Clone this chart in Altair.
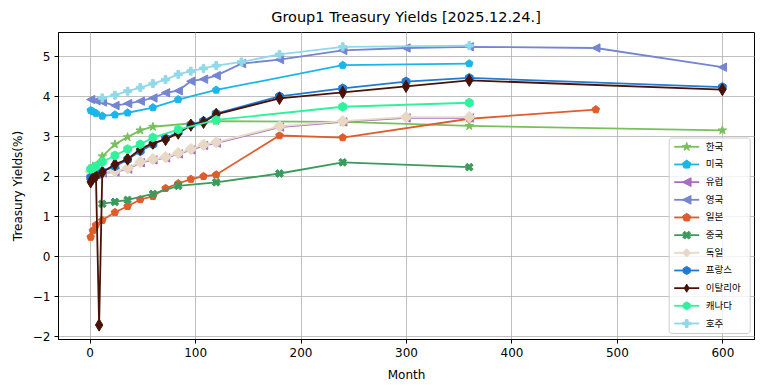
import math
import altair as alt
import pandas as pd

# ---------------- data (months, yields %) ----------------
names = ["한국", "미국", "유럽", "영국", "일본", "중국", "독일", "프랑스", "이탈리아", "캐나다", "호주"]

korea_m = [3, 12, 24, 36, 48, 60, 120, 240, 360, 600]
korea_y = [2.25, 2.5, 2.8, 2.98, 3.15, 3.24, 3.38, 3.36, 3.26, 3.15]

us_m = [1, 3, 6, 12, 24, 36, 60, 84, 120, 240, 360]
us_y = [3.65, 3.62, 3.58, 3.51, 3.54, 3.59, 3.72, 3.92, 4.16, 4.78, 4.82]

eu_m = [1, 3, 6, 12, 24, 36, 48, 60, 72, 84, 96, 108, 120, 180, 240, 300, 360]
eu_y = [2.1, 2.03, 2.04, 2.08, 2.11, 2.18, 2.34, 2.41, 2.46, 2.56, 2.66, 2.77, 2.83, 3.23, 3.36, 3.46, 3.46]

uk_m = [1, 6, 12, 24, 36, 48, 60, 72, 84, 96, 108, 120, 144, 180, 240, 300, 360, 480, 600]
uk_y = [3.92, 3.89, 3.86, 3.77, 3.82, 3.88, 3.96, 4.09, 4.14, 4.38, 4.43, 4.52, 4.82, 4.92, 5.15, 5.21, 5.24, 5.21, 4.73]

jp_m = [1, 3, 6, 12, 24, 36, 48, 60, 72, 84, 96, 108, 120, 180, 240, 360, 480]
jp_y = [0.48, 0.64, 0.78, 0.9, 1.1, 1.25, 1.42, 1.5, 1.7, 1.82, 1.93, 2.0, 2.04, 3.02, 2.97, 3.44, 3.67]

cn_m = [12, 24, 36, 60, 84, 120, 180, 240, 360]
cn_y = [1.31, 1.36, 1.41, 1.56, 1.76, 1.85, 2.07, 2.35, 2.23]

de_m = [1, 3, 6, 12, 24, 36, 48, 60, 72, 84, 96, 108, 120, 180, 240, 300, 360]
de_y = [2.12, 2.05, 2.06, 2.1, 2.13, 2.2, 2.36, 2.43, 2.48, 2.58, 2.68, 2.79, 2.85, 3.25, 3.38, 3.48, 3.48]

fr_m = [1, 3, 6, 9, 12, 24, 36, 48, 60, 72, 84, 96, 108, 120, 180, 240, 300, 360, 600]
fr_y = [1.97, 2.0, 2.04, 2.07, 2.12, 2.25, 2.42, 2.63, 2.8, 2.95, 3.1, 3.29, 3.38, 3.57, 4.0, 4.2, 4.37, 4.46, 4.23]

it_m = [1, 3, 6, 9, 12, 24, 36, 48, 60, 72, 84, 96, 108, 120, 180, 240, 300, 360, 600]
it_y = [1.86, 1.95, 2.0, -1.72, 2.1, 2.3, 2.43, 2.68, 2.83, 2.92, 3.08, 3.28, 3.35, 3.55, 3.95, 4.1, 4.25, 4.4, 4.17]

ca_m = [1, 3, 6, 12, 24, 36, 48, 60, 84, 120, 240, 360]
ca_y = [2.18, 2.2, 2.25, 2.36, 2.52, 2.68, 2.8, 2.97, 3.17, 3.41, 3.74, 3.84]

au_m = [12, 24, 36, 48, 60, 72, 84, 96, 108, 120, 144, 180, 240, 360]
au_y = [3.96, 4.03, 4.13, 4.22, 4.32, 4.42, 4.55, 4.63, 4.7, 4.77, 4.86, 5.05, 5.24, 5.27]

series_m = [korea_m, us_m, eu_m, uk_m, jp_m, cn_m, de_m, fr_m, it_m, ca_m, au_m]
series_y = [korea_y, us_y, eu_y, uk_y, jp_y, cn_y, de_y, fr_y, it_y, ca_y, au_y]

x_ticks = [0, 100, 200, 300, 400, 500, 600]
y_ticks = [-2, -1, 0, 1, 2, 3, 4, 5]

title_text = "Group1 Treasury Yields [2025.12.24.]"
x_title = "Month"
y_title = "Treasury Yields(%)"

# ---------------- styles ----------------
colors = ["#78c05a", "#19b6ea", "#a86cc1", "#7585d1", "#e05c2a", "#3a9b5c",
          "#e8d9c6", "#2079d2", "#4a1206", "#2ff39c", "#90d8ea"]


def poly(pts):
    return "M" + "L".join(f"{x:.3f},{y:.3f}" for x, y in pts) + "Z"


def regular(n, r=1.0, start=-90.0):
    return [(r * math.cos(math.radians(start + k * 360 / n)),
             r * math.sin(math.radians(start + k * 360 / n))) for k in range(n)]


def star():
    pts = []
    for k in range(10):
        r = 1.0 if k % 2 == 0 else 0.382
        a = math.radians(-90 + k * 36)
        pts.append((r * math.cos(a), r * math.sin(a)))
    return pts


def plus(rot=0.0):
    w = 1 / 3
    base = [(-w, -1), (w, -1), (w, -w), (1, -w), (1, w), (w, w), (w, 1), (-w, 1),
            (-w, w), (-1, w), (-1, -w), (-w, -w)]
    c, s = math.cos(math.radians(rot)), math.sin(math.radians(rot))
    return [(x * c - y * s, x * s + y * c) for x, y in base]


shp_star = poly(star())
shp_pent = poly(regular(5))
shp_hex = poly(regular(6))
shp_left = poly([(-1, 0), (1, -1), (1, 1)])
shp_x = poly(plus(45))
shp_p = poly(plus(0))
shp_D = poly([(0, -1), (1, 0), (0, 1), (-1, 0)])
shp_d = poly([(0, -1), (0.6, 0), (0, 1), (-0.6, 0)])

shapes = [shp_star, shp_pent, shp_left, shp_left, shp_pent, shp_x,
          shp_D, shp_hex, shp_d, shp_hex, shp_p]
sizes = [80, 62, 70, 70, 62, 68, 130, 80, 150, 80, 64]

rows = []
for n, ms, ys in zip(names, series_m, series_y):
    for m, v in zip(ms, ys):
        rows.append({"name": n, "month": m, "yield": v})
df = pd.DataFrame(rows)

xscale = alt.Scale(domain=[-30, 630], nice=False, zero=False)
yscale = alt.Scale(domain=[-2.07, 5.61], nice=False, zero=False)
xaxis = alt.Axis(values=x_ticks, title=x_title, grid=True, titlePadding=11)
yaxis = alt.Axis(values=y_ticks, title=y_title, grid=True, titlePadding=8)

layers = []
for i, n in enumerate(names):
    base = alt.Chart(df).transform_filter(alt.datum.name == n)
    xenc = alt.X("month:Q", scale=xscale, axis=xaxis)
    yenc = alt.Y("yield:Q", scale=yscale, axis=yaxis)
    line = base.mark_line(color=colors[i], strokeWidth=1.8).encode(x=xenc, y=yenc)
    pts = base.mark_point(filled=True, fill=colors[i], stroke=colors[i], strokeWidth=1,
                          opacity=1, shape=shapes[i], size=sizes[i]).encode(x=xenc, y=yenc)
    layers += [line, pts]

main = alt.layer(*layers)

# ---------------- legend (manual, matplotlib-like) ----------------
leg_df = pd.DataFrame({"name": names, "idx": list(range(len(names)))})
lbase = alt.Chart(leg_df)
ly = alt.Y("idx:Q", scale=alt.Scale(domain=[0, 10], range=[114.8, 291.5], nice=False, zero=False),
           axis=None)
col = alt.Color("name:N", scale=alt.Scale(domain=names, range=colors), legend=None)
strk = alt.Stroke("name:N", scale=alt.Scale(domain=names, range=colors), legend=None)
shp = alt.Shape("name:N", scale=alt.Scale(domain=names, range=shapes), legend=None)
siz = alt.Size("name:N", scale=alt.Scale(domain=names, range=sizes), legend=None)

frame = alt.Chart(pd.DataFrame({"a": [0]})).mark_rect(
    fill="white", fillOpacity=0.8, stroke="#cccccc", strokeWidth=1, cornerRadius=3
).encode(x=alt.value(611.2), x2=alt.value(692.2), y=alt.value(106), y2=alt.value(301.5))
handles = lbase.mark_rule(strokeWidth=1.8).encode(
    x=alt.value(616.2), x2=alt.value(641.2), y=ly, color=col)
markers = lbase.mark_point(filled=True, strokeWidth=1, opacity=1).encode(
    x=alt.value(628.7), y=ly, color=col, stroke=strk, shape=shp, size=siz)
labels = lbase.mark_text(align="left", baseline="middle", font="Noto Sans CJK KR",
                         fontSize=9.5, color="black").encode(
    x=alt.value(647.8), y=ly, text="name:N")

legend = alt.layer(frame, handles, markers, labels)

chart = alt.layer(main, legend).resolve_scale(y="independent").properties(
    width=696, height=307,
    title=alt.TitleParams(title_text, font="DejaVu Sans", fontSize=14.5, fontWeight="normal",
                          color="black", offset=7, anchor="middle"),
    padding={"left": 3, "top": 1, "right": 5, "bottom": 5},
).configure_view(stroke="black", strokeWidth=1).configure_axis(
    labelFont="DejaVu Sans", labelFontSize=12, labelColor="black",
    titleFont="DejaVu Sans", titleFontSize=12, titleFontWeight="normal", titleColor="black",
    tickSize=4, tickColor="black", labelPadding=4, domainColor="black",
    gridColor="#b0b0b0", gridWidth=0.8,
)

chart.save("out.html", embed_options={"renderer": "svg", "actions": False})
